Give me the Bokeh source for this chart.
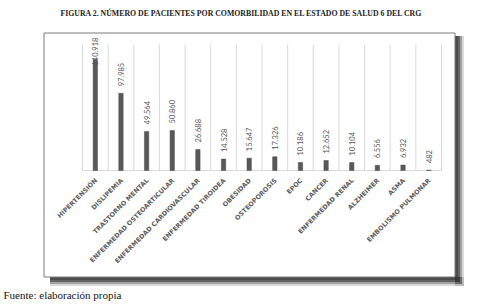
import math
from bokeh.plotting import figure
from bokeh.models import Range1d, ColumnDataSource
from bokeh.core.properties import value
from bokeh.embed import file_html
from bokeh.resources import INLINE

# ---- data ----
categories = ["HIPERTENSIÓN", "DISLIPEMIA", "TRASTORNO MENTAL", "ENFERMEDAD OSTEOARTICULAR",
              "ENFERMEDAD CARDIOVASCULAR", "ENFERMEDAD TIROIDEA", "OBESIDAD", "OSTEOPOROSIS",
              "EPOC", "CANCER", "ENFERMEDAD RENAL", "ALZHEIMER", "ASMA", "EMBOLISMO PULMONAR"]
patients = [140918, 97985, 49564, 50860, 26688, 14528, 15647, 17326,
            10186, 12652, 10104, 6556, 6932, 482]
grid_top = 160000
title_text = "FIGURA 2. NÚMERO DE PACIENTES POR COMORBILIDAD EN EL ESTADO DE SALUD 6 DEL CRG"
source_text = "Fuente: elaboración propia"

# ---- layout geometry (pixels) ----
W, H = 480, 306
BOX_L, BOX_T, BOX_R, BOX_B = 43.5, 32.5, 454.5, 276.5
PLOT_L, PLOT_R, PLOT_T, BASE = 82, 441, 44, 170
n = len(categories)
cat_px = (PLOT_R - PLOT_L) / n
y_per_px = grid_top / (BASE - PLOT_T)

def px_x(px):
    return (px - PLOT_L) / cat_px

def px_y(py):
    return (BASE - py) * y_per_px

p = figure(width=W, height=H, output_backend="svg", toolbar_location=None,
           x_axis_type=None, y_axis_type=None,
           x_range=Range1d(px_x(0), px_x(W)), y_range=Range1d(px_y(H), px_y(0)),
           min_border=0)
p.background_fill_color = "white"
p.border_fill_color = "white"
p.outline_line_color = None

# drop shadow of the chart box
for d, a in [(9, 0.18), (7, 0.35), (5, 0.55), (3, 0.5)]:
    p.quad(left=[px_x(BOX_R), px_x(BOX_L + 6)], right=[px_x(BOX_R + d), px_x(BOX_R + d)],
           top=[px_y(BOX_T + 3), px_y(BOX_B)], bottom=[px_y(BOX_B + d), px_y(BOX_B + d)],
           fill_color="#333333", fill_alpha=a, line_color=None)

# chart box
p.quad(left=[px_x(BOX_L)], right=[px_x(BOX_R)], top=[px_y(BOX_T)], bottom=[px_y(BOX_B)],
       fill_color="white", line_color="#7a7a7a", line_width=1)

xs = [i + 0.5 for i in range(n)]

# vertical gridlines at category boundaries + baseline
p.segment(x0=list(range(n + 1)), y0=[0] * (n + 1), x1=list(range(n + 1)),
          y1=[grid_top] * (n + 1), line_color="#d9d9d9", line_width=1)
p.segment(x0=[0], y0=[0], x1=[n], y1=[0], line_color="#d9d9d9", line_width=1)

# bars
src = ColumnDataSource(dict(x=xs, top=patients, cat=categories))
p.vbar(x="x", top="top", width=0.17, bottom=0, source=src,
       fill_color="#585858", line_color="#4a4a4a", line_width=0.5)

# data labels
pad = 7 * y_per_px
ceiling = (BASE - 65) * y_per_px
lab_y = [min(v + pad, ceiling) for v in patients]
lab_txt = [f"{v:,}".replace(",", ".") for v in patients]
p.text(x=xs, y=lab_y, text=lab_txt, angle=math.pi / 2, text_align="left",
       text_baseline="middle", text_font=value("Lato"), text_font_size="7.5px",
       text_color="#555555")

# category labels
p.text(x=xs, y=[0] * n, text=categories, angle=math.pi / 4, text_align="right",
       text_baseline="middle", x_offset=1, y_offset=9, text_font=value("DejaVu Sans"),
       text_font_size="6.4px", text_font_style="bold", text_color="#5a5a5a")

# title and source
p.text(x=[px_x(60)], y=[px_y(13)], text=[title_text], text_align="left",
       text_baseline="middle", text_font=value("Liberation Serif"), text_font_size="7.8px",
       text_font_style="bold", text_color="#222222")
p.text(x=[px_x(3)], y=[px_y(294)], text=[source_text], text_align="left",
       text_baseline="middle", text_font=value("Liberation Serif"), text_font_size="11px",
       text_color="#111111")

open("out.html", "w").write(file_html(p, INLINE))
